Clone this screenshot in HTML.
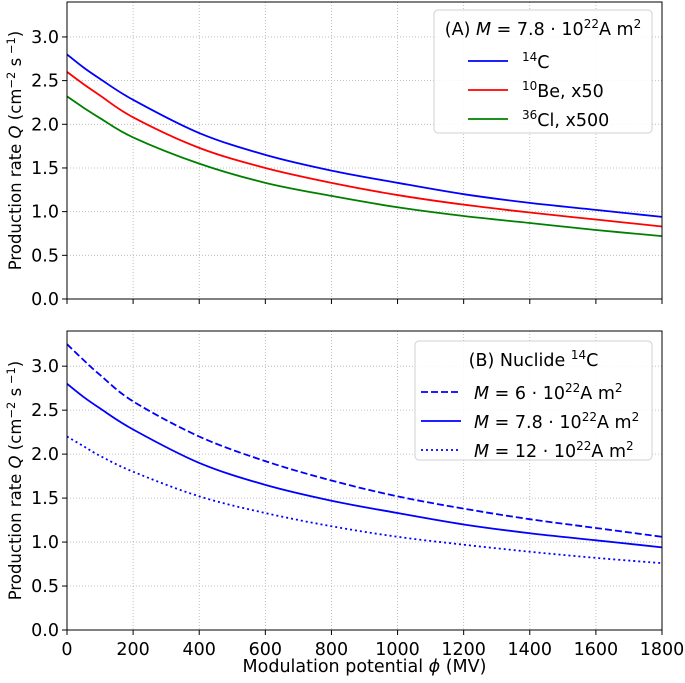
<!DOCTYPE html>
<html><head><meta charset="utf-8"><style>
body{margin:0;background:#fff}
svg{display:block;font-family:"DejaVu Sans","Liberation Sans",sans-serif}
</style></head><body>
<svg id="c" width="685" height="683" xmlns="http://www.w3.org/2000/svg"></svg>
<script>
const xs=[0,50,100,200,400,600,800,1000,1200,1400,1600,1800];
const c14=[2.8,2.65,2.52,2.28,1.9,1.65,1.47,1.33,1.2,1.1,1.02,0.94];
const be10=[2.6,2.46,2.33,2.08,1.73,1.5,1.33,1.19,1.08,0.99,0.91,0.83];
const cl36=[2.32,2.19,2.07,1.85,1.55,1.33,1.18,1.05,0.95,0.87,0.79,0.72];
const m6=[3.25,3.07,2.9,2.6,2.2,1.92,1.7,1.52,1.38,1.26,1.16,1.06];
const m78=[2.8,2.65,2.52,2.28,1.9,1.65,1.47,1.33,1.2,1.1,1.02,0.94];
const m12=[2.2,2.09,1.98,1.8,1.52,1.33,1.18,1.06,0.97,0.89,0.82,0.76];
const xTicks=[0,200,400,600,800,1000,1200,1400,1600,1800];
const yTicks=[0,0.5,1,1.5,2,2.5,3];
const NS="http://www.w3.org/2000/svg";
const svg=document.getElementById('c');
function mk(t,a,p){const e=document.createElementNS(NS,t);for(const k in a)e.setAttribute(k,a[k]);(p||svg).appendChild(e);return e;}
const X0=67,X1=662;
function sx(v){return X0+(X1-X0)*v/1800;}
function smooth(P){let d='M'+P[0][0]+','+P[0][1];
  for(let i=0;i<P.length-1;i++){const p0=P[Math.max(i-1,0)],p1=P[i],p2=P[i+1],p3=P[Math.min(i+2,P.length-1)];
    const c1=[p1[0]+(p2[0]-p0[0])/6,p1[1]+(p2[1]-p0[1])/6],c2=[p2[0]-(p3[0]-p1[0])/6,p2[1]-(p3[1]-p1[1])/6];
    d+=` C${c1[0]},${c1[1]} ${c2[0]},${c2[1]} ${p2[0]},${p2[1]}`;}
  return d;}
function panel(top,bottom,name,series,showX){
  const ymax=3.4;
  const sy=v=>bottom-(bottom-top)*v/ymax;
  const g=mk('g',{});
  
  
  xTicks.forEach(t=>{const l=mk('line',{x1:sx(t),x2:sx(t),y1:top,y2:bottom,stroke:'#b0b0b0','stroke-width':0.8,'stroke-dasharray':'1,2'},g);
    
    mk('line',{x1:sx(t),x2:sx(t),y1:bottom,y2:bottom+5,stroke:'#000'},g);
    if(showX){const tx=mk('text',{x:sx(t),y:bottom+25,'text-anchor':'middle','font-size':17.5},g);tx.textContent=t;
      }
  });
  yTicks.forEach(t=>{const l=mk('line',{x1:X0,x2:X1,y1:sy(t),y2:sy(t),stroke:'#b0b0b0','stroke-width':0.8,'stroke-dasharray':'1,2'},g);
    
    mk('line',{x1:X0-5,x2:X0,y1:sy(t),y2:sy(t),stroke:'#000'},g);
    const tx=mk('text',{x:X0-8,y:sy(t)+6,'text-anchor':'end','font-size':17.5},g);tx.textContent=t.toFixed(1);
    
  });
  series.forEach(s=>{const P=xs.map((x,i)=>[sx(x),sy(s.d[i])]);
    const a={d:smooth(P),fill:'none',stroke:s.c,'stroke-width':1.8};if(s.dash)a['stroke-dasharray']=s.dash;
    const p=mk('path',a,g);});
  const f=mk('rect',{x:X0,y:top,width:X1-X0,height:bottom-top,fill:'none',stroke:'#000','stroke-width':1},g);
  
  const yl=mk('text',{x:0,y:0,transform:`translate(21,${(top+bottom)/2}) rotate(-90)`,'text-anchor':'middle','font-size':16.5},g);
  yl.innerHTML='Production rate <tspan font-style="italic">Q</tspan> (cm<tspan dy="-6" font-size="11.5">−2</tspan><tspan dy="6"> s</tspan><tspan dy="-6" font-size="11.5"> −1</tspan><tspan dy="6">)</tspan>';
  
  return g;
}
panel(2,299,'panel-a',[{d:c14,c:'#0000ff',n:'line-14c'},{d:be10,c:'#ff0000',n:'line-10be'},{d:cl36,c:'#008000',n:'line-36cl'}],false);
panel(331,630,'panel-b',[{d:m6,c:'#0000ff',n:'line-m6',dash:'7,3'},{d:m78,c:'#0000ff',n:'line-m7-8'},{d:m12,c:'#0000ff',n:'line-m12',dash:'2,3'}],true);
const xl=mk('text',{x:sx(900),y:672,'text-anchor':'middle','font-size':17.5});
xl.innerHTML='Modulation potential <tspan font-style="italic">ϕ</tspan> (MV)';

function legend(name,x,y,w,h,title,entries,lx,tx){
  const g=mk('g',{});
  mk('rect',{x:x,y:y,width:w,height:h,rx:4,fill:'#fff','fill-opacity':0.85,stroke:'#d0d0d0'},g);
  const t=mk('text',{x:x+w/2,y:y+25,'text-anchor':'middle','font-size':17.5},g);t.innerHTML=title;
  
  entries.forEach((e,i)=>{const yy=y+51+i*29;
    const a={x1:lx,x2:lx+40,y1:yy,y2:yy,stroke:e.c,'stroke-width':1.8};if(e.dash)a['stroke-dasharray']=e.dash;
    mk('line',a,g);
    const tt=mk('text',{x:tx,y:yy+7,'font-size':17.5},g);tt.innerHTML=e.t;
    });
}
const M='<tspan font-style="italic">M</tspan> = ';
const sup=s=>`<tspan dy="-7" font-size="12">${s}</tspan><tspan dy="7">`;
legend('legend-a',434,10,218,123,'(A) '+M+'7.8 · 10'+sup('22')+'A m</tspan>'+sup('2')+'</tspan>',
 [{c:'#0000ff',t:sup('14')+'C</tspan>'},{c:'#ff0000',t:sup('10')+'Be, x50</tspan>'},{c:'#008000',t:sup('36')+'Cl, x500</tspan>'}],468,522);
legend('legend-b',415,341,237,119,'(B) Nuclide '+sup('14')+'C</tspan>',
 [{c:'#0000ff',dash:'7,3',t:M+'6 · 10'+sup('22')+'A m</tspan>'+sup('2')+'</tspan>'},{c:'#0000ff',t:M+'7.8 · 10'+sup('22')+'A m</tspan>'+sup('2')+'</tspan>'},{c:'#0000ff',dash:'2,3',t:M+'12 · 10'+sup('22')+'A m</tspan>'+sup('2')+'</tspan>'}],421,474);
</script>
</body></html>
